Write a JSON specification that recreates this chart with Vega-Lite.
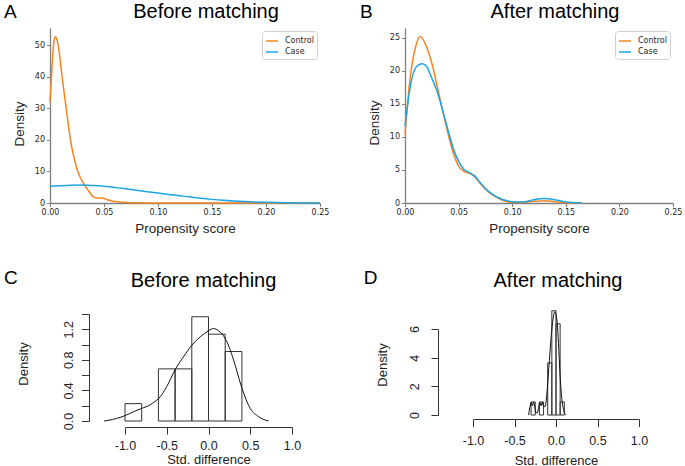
{
  "$schema": "https://vega.github.io/schema/vega-lite/v6.json",
  "background": "white",
  "padding": {"left": 3, "top": 2, "right": 0, "bottom": 0},
  "config": {
    "view": {"stroke": null},
    "font": "Liberation Sans",
    "axis": {"grid": false, "labelFlush": false, "labelOverlap": false, "tickCount": 50}
  },
  "datasets": {
    "psA": [
      {"group": "Control", "score": 0.0, "density": 32},
      {"group": "Control", "score": 0.001, "density": 38},
      {"group": "Control", "score": 0.002, "density": 44},
      {"group": "Control", "score": 0.003, "density": 49},
      {"group": "Control", "score": 0.004, "density": 52},
      {"group": "Control", "score": 0.005, "density": 52.7},
      {"group": "Control", "score": 0.006, "density": 52.3},
      {"group": "Control", "score": 0.007, "density": 51},
      {"group": "Control", "score": 0.0085, "density": 48},
      {"group": "Control", "score": 0.01, "density": 43.5},
      {"group": "Control", "score": 0.0125, "density": 36.5},
      {"group": "Control", "score": 0.015, "density": 30},
      {"group": "Control", "score": 0.0175, "density": 23.5},
      {"group": "Control", "score": 0.02, "density": 18},
      {"group": "Control", "score": 0.0225, "density": 14},
      {"group": "Control", "score": 0.025, "density": 10.8},
      {"group": "Control", "score": 0.0275, "density": 8.5},
      {"group": "Control", "score": 0.03, "density": 6.9},
      {"group": "Control", "score": 0.0325, "density": 5.4},
      {"group": "Control", "score": 0.035, "density": 4.2},
      {"group": "Control", "score": 0.0375, "density": 3.0},
      {"group": "Control", "score": 0.04, "density": 2.0},
      {"group": "Control", "score": 0.0425, "density": 1.65},
      {"group": "Control", "score": 0.045, "density": 1.6},
      {"group": "Control", "score": 0.0475, "density": 1.55},
      {"group": "Control", "score": 0.05, "density": 1.4},
      {"group": "Control", "score": 0.0525, "density": 1.1},
      {"group": "Control", "score": 0.055, "density": 0.85},
      {"group": "Control", "score": 0.0575, "density": 0.65},
      {"group": "Control", "score": 0.06, "density": 0.5},
      {"group": "Control", "score": 0.065, "density": 0.32},
      {"group": "Control", "score": 0.07, "density": 0.2},
      {"group": "Control", "score": 0.075, "density": 0.1},
      {"group": "Control", "score": 0.08, "density": 0.06},
      {"group": "Control", "score": 0.09, "density": 0.03},
      {"group": "Control", "score": 0.1, "density": 0.02},
      {"group": "Control", "score": 0.125, "density": 0.01},
      {"group": "Control", "score": 0.15, "density": 0.005},
      {"group": "Control", "score": 0.2, "density": 0.0},
      {"group": "Control", "score": 0.25, "density": 0.0},
      {"group": "Case", "score": 0.0, "density": 5.3},
      {"group": "Case", "score": 0.01, "density": 5.5},
      {"group": "Case", "score": 0.02, "density": 5.65},
      {"group": "Case", "score": 0.03, "density": 5.7},
      {"group": "Case", "score": 0.04, "density": 5.55},
      {"group": "Case", "score": 0.05, "density": 5.3},
      {"group": "Case", "score": 0.06, "density": 4.95},
      {"group": "Case", "score": 0.07, "density": 4.5},
      {"group": "Case", "score": 0.08, "density": 4.05},
      {"group": "Case", "score": 0.09, "density": 3.6},
      {"group": "Case", "score": 0.1, "density": 3.15},
      {"group": "Case", "score": 0.11, "density": 2.7},
      {"group": "Case", "score": 0.12, "density": 2.3},
      {"group": "Case", "score": 0.13, "density": 1.9},
      {"group": "Case", "score": 0.14, "density": 1.5},
      {"group": "Case", "score": 0.15, "density": 1.15},
      {"group": "Case", "score": 0.16, "density": 0.85},
      {"group": "Case", "score": 0.17, "density": 0.62},
      {"group": "Case", "score": 0.18, "density": 0.45},
      {"group": "Case", "score": 0.19, "density": 0.33},
      {"group": "Case", "score": 0.2, "density": 0.23},
      {"group": "Case", "score": 0.22, "density": 0.1},
      {"group": "Case", "score": 0.25, "density": 0.03}
    ],
    "psB": [
      {"group": "Control", "score": 0.0, "density": 10.4},
      {"group": "Control", "score": 0.005, "density": 19.2},
      {"group": "Control", "score": 0.01, "density": 23.7},
      {"group": "Control", "score": 0.014, "density": 25.2},
      {"group": "Control", "score": 0.02, "density": 23.7},
      {"group": "Control", "score": 0.025, "density": 21.2},
      {"group": "Control", "score": 0.03, "density": 17.7},
      {"group": "Control", "score": 0.035, "density": 14.1},
      {"group": "Control", "score": 0.04, "density": 10.6},
      {"group": "Control", "score": 0.045, "density": 7.6},
      {"group": "Control", "score": 0.05, "density": 5.6},
      {"group": "Control", "score": 0.055, "density": 4.8},
      {"group": "Control", "score": 0.06, "density": 4.5},
      {"group": "Control", "score": 0.065, "density": 4.0},
      {"group": "Control", "score": 0.07, "density": 3.0},
      {"group": "Control", "score": 0.075, "density": 2.1},
      {"group": "Control", "score": 0.08, "density": 1.4},
      {"group": "Control", "score": 0.09, "density": 0.5},
      {"group": "Control", "score": 0.1, "density": 0.1},
      {"group": "Control", "score": 0.11, "density": 0.08},
      {"group": "Control", "score": 0.12, "density": 0.25},
      {"group": "Control", "score": 0.13, "density": 0.35},
      {"group": "Control", "score": 0.14, "density": 0.2},
      {"group": "Control", "score": 0.15, "density": 0.05},
      {"group": "Control", "score": 0.165, "density": 0.0},
      {"group": "Case", "score": 0.0, "density": 11.6},
      {"group": "Case", "score": 0.005, "density": 17.7},
      {"group": "Case", "score": 0.01, "density": 20.5},
      {"group": "Case", "score": 0.016, "density": 21.1},
      {"group": "Case", "score": 0.02, "density": 20.7},
      {"group": "Case", "score": 0.025, "density": 18.9},
      {"group": "Case", "score": 0.03, "density": 16.9},
      {"group": "Case", "score": 0.035, "density": 14.1},
      {"group": "Case", "score": 0.04, "density": 11.1},
      {"group": "Case", "score": 0.045, "density": 8.3},
      {"group": "Case", "score": 0.05, "density": 6.3},
      {"group": "Case", "score": 0.055, "density": 5.1},
      {"group": "Case", "score": 0.06, "density": 4.6},
      {"group": "Case", "score": 0.065, "density": 4.1},
      {"group": "Case", "score": 0.07, "density": 3.1},
      {"group": "Case", "score": 0.075, "density": 2.2},
      {"group": "Case", "score": 0.08, "density": 1.5},
      {"group": "Case", "score": 0.09, "density": 0.6},
      {"group": "Case", "score": 0.1, "density": 0.2},
      {"group": "Case", "score": 0.11, "density": 0.15},
      {"group": "Case", "score": 0.12, "density": 0.5},
      {"group": "Case", "score": 0.13, "density": 0.7},
      {"group": "Case", "score": 0.14, "density": 0.5},
      {"group": "Case", "score": 0.15, "density": 0.15},
      {"group": "Case", "score": 0.165, "density": 0.0}
    ],
    "histC": [
      {"bin_start": -1.0, "bin_end": -0.8, "density": 0.227},
      {"bin_start": -0.6, "bin_end": -0.4, "density": 0.682},
      {"bin_start": -0.4, "bin_end": -0.2, "density": 0.682},
      {"bin_start": -0.2, "bin_end": 0.0, "density": 1.364},
      {"bin_start": 0.0, "bin_end": 0.2, "density": 1.136},
      {"bin_start": 0.2, "bin_end": 0.4, "density": 0.909}
    ],
    "kdeC": [
      {"bin_start": -1.25, "density": 0.0},
      {"bin_start": -1.15, "density": 0.02},
      {"bin_start": -1.05, "density": 0.05},
      {"bin_start": -1.0, "density": 0.07},
      {"bin_start": -0.9, "density": 0.12},
      {"bin_start": -0.8, "density": 0.165},
      {"bin_start": -0.7, "density": 0.21},
      {"bin_start": -0.65, "density": 0.25},
      {"bin_start": -0.6, "density": 0.29},
      {"bin_start": -0.5, "density": 0.45},
      {"bin_start": -0.4, "density": 0.67},
      {"bin_start": -0.3, "density": 0.84},
      {"bin_start": -0.2, "density": 0.99},
      {"bin_start": -0.1, "density": 1.1},
      {"bin_start": 0.0, "density": 1.18},
      {"bin_start": 0.06, "density": 1.21},
      {"bin_start": 0.12, "density": 1.18},
      {"bin_start": 0.2, "density": 1.08},
      {"bin_start": 0.25, "density": 0.96},
      {"bin_start": 0.3, "density": 0.8},
      {"bin_start": 0.4, "density": 0.43},
      {"bin_start": 0.5, "density": 0.165},
      {"bin_start": 0.6, "density": 0.057},
      {"bin_start": 0.65, "density": 0.025},
      {"bin_start": 0.72, "density": 0.0}
    ],
    "histD": [
      {"bin_start": -0.3, "bin_end": -0.25, "density": 0.909},
      {"bin_start": -0.2, "bin_end": -0.15, "density": 0.909},
      {"bin_start": -0.1, "bin_end": -0.05, "density": 3.636},
      {"bin_start": -0.05, "bin_end": 0.0, "density": 7.273},
      {"bin_start": 0.0, "bin_end": 0.05, "density": 6.364},
      {"bin_start": 0.05, "bin_end": 0.1, "density": 0.909}
    ],
    "kdeD": [
      {"bin_start": -0.33, "density": 0.0},
      {"bin_start": -0.315, "density": 0.5},
      {"bin_start": -0.3, "density": 0.9},
      {"bin_start": -0.285, "density": 0.65},
      {"bin_start": -0.27, "density": 0.9},
      {"bin_start": -0.255, "density": 0.5},
      {"bin_start": -0.24, "density": 0.15},
      {"bin_start": -0.225, "density": 0.15},
      {"bin_start": -0.21, "density": 0.5},
      {"bin_start": -0.195, "density": 0.9},
      {"bin_start": -0.18, "density": 0.65},
      {"bin_start": -0.165, "density": 0.9},
      {"bin_start": -0.15, "density": 0.6},
      {"bin_start": -0.13, "density": 0.6},
      {"bin_start": -0.11, "density": 1.5},
      {"bin_start": -0.09, "density": 3.0},
      {"bin_start": -0.07, "density": 4.6},
      {"bin_start": -0.05, "density": 6.0},
      {"bin_start": -0.03, "density": 6.9},
      {"bin_start": -0.015, "density": 7.2},
      {"bin_start": 0.0, "density": 7.0},
      {"bin_start": 0.015, "density": 6.4},
      {"bin_start": 0.03, "density": 5.0},
      {"bin_start": 0.045, "density": 3.2},
      {"bin_start": 0.06, "density": 1.8},
      {"bin_start": 0.075, "density": 0.9},
      {"bin_start": 0.09, "density": 0.4},
      {"bin_start": 0.11, "density": 0.05},
      {"bin_start": 0.12, "density": 0.0}
    ]
  },
  "vconcat": [
    {
      "hconcat": [
        {
          "width": 270,
          "height": 175,
          "title": {"text": "Before matching", "frame": "group", "anchor": "middle", "dx": 21, "dy": 35, "offset": 0, "baseline": "alphabetic", "font": "Liberation Sans", "fontSize": 20, "fontWeight": "normal", "color": "#000"},
          "layer": [
            {
              "data": {"name": "psA"},
              "mark": {"type": "line", "strokeWidth": 1.5, "interpolate": "monotone"},
              "encoding": {
                "x": {"field": "score", "type": "quantitative", "title": "Propensity score",
                  "scale": {"domain": [0, 0.25], "nice": false, "zero": false},
                  "axis": {"values": [0, 0.05, 0.1, 0.15, 0.2, 0.25], "tickCount": 50, "format": ".2f", "labelOverlap": false, "domainColor": "#7f7f7f", "domainWidth": 1.3, "tickColor": "#7f7f7f", "tickSize": 3.5, "labelFont": "DejaVu Sans", "labelFontSize": 8, "labelColor": "#262626", "labelPadding": 2, "titleFont": "Liberation Sans", "titleFontSize": 13.5, "titleFontWeight": "normal", "titleColor": "#262626", "titlePadding": 5}},
                "y": {"field": "density", "type": "quantitative", "title": "Density",
                  "scale": {"domain": [0, 55.5], "nice": false, "zero": false},
                  "axis": {"values": [0, 10, 20, 30, 40, 50], "tickCount": 50, "format": "d", "labelOverlap": false, "domainColor": "#7f7f7f", "domainWidth": 1.3, "tickColor": "#7f7f7f", "tickSize": 3.5, "labelFont": "DejaVu Sans", "labelFontSize": 8, "labelColor": "#262626", "labelPadding": 2, "titleFont": "Liberation Sans", "titleFontSize": 13.5, "titleFontWeight": "normal", "titleColor": "#262626", "titlePadding": 8, "titleY": 95.5}},
                "color": {"field": "group", "type": "nominal",
                  "scale": {"domain": ["Control", "Case"], "range": ["#F5861F", "#1CA5E6"]},
                  "legend": {"title": null, "orient": "top-right", "offset": 3, "symbolType": "stroke", "symbolSize": 144, "symbolStrokeWidth": 1.5, "labelFont": "DejaVu Sans", "labelFontSize": 8, "labelColor": "#262626", "strokeColor": "#d0d0d0", "fillColor": "white", "padding": 3, "cornerRadius": 3, "rowPadding": 0, "labelOffset": 6}}
              }
            },
            {
              "data": {"values": [{"letter": "A"}]},
              "mark": {"type": "text", "align": "left", "baseline": "alphabetic", "font": "Liberation Sans", "fontSize": 19, "color": "#000"},
              "encoding": {"text": {"field": "letter"}, "x": {"datum": -0.0426, "type": "quantitative"}, "y": {"datum": 58.6, "type": "quantitative"}}
            }
          ]
        },
        {
          "width": 268,
          "height": 175,
          "title": {"text": "After matching", "frame": "group", "anchor": "middle", "dx": 16, "dy": 35, "offset": 0, "baseline": "alphabetic", "font": "Liberation Sans", "fontSize": 20, "fontWeight": "normal", "color": "#000"},
          "layer": [
            {
              "data": {"name": "psB"},
              "mark": {"type": "line", "strokeWidth": 1.5, "interpolate": "monotone"},
              "encoding": {
                "x": {"field": "score", "type": "quantitative", "title": "Propensity score",
                  "scale": {"domain": [0, 0.25], "nice": false, "zero": false},
                  "axis": {"values": [0, 0.05, 0.1, 0.15, 0.2, 0.25], "tickCount": 50, "format": ".2f", "labelOverlap": false, "domainColor": "#7f7f7f", "domainWidth": 1.3, "tickColor": "#7f7f7f", "tickSize": 3.5, "labelFont": "DejaVu Sans", "labelFontSize": 8, "labelColor": "#262626", "labelPadding": 2, "titleFont": "Liberation Sans", "titleFontSize": 13.5, "titleFontWeight": "normal", "titleColor": "#262626", "titlePadding": 5}},
                "y": {"field": "density", "type": "quantitative", "title": "Density",
                  "scale": {"domain": [0, 26.5], "nice": false, "zero": false},
                  "axis": {"values": [0, 5, 10, 15, 20, 25], "tickCount": 50, "format": "d", "labelOverlap": false, "domainColor": "#7f7f7f", "domainWidth": 1.3, "tickColor": "#7f7f7f", "tickSize": 3.5, "labelFont": "DejaVu Sans", "labelFontSize": 8, "labelColor": "#262626", "labelPadding": 2, "titleFont": "Liberation Sans", "titleFontSize": 13.5, "titleFontWeight": "normal", "titleColor": "#262626", "titlePadding": 8, "titleY": 94.5}},
                "color": {"field": "group", "type": "nominal",
                  "scale": {"domain": ["Control", "Case"], "range": ["#F5861F", "#1CA5E6"]},
                  "legend": {"title": null, "orient": "top-right", "offset": 3, "symbolType": "stroke", "symbolSize": 144, "symbolStrokeWidth": 1.5, "labelFont": "DejaVu Sans", "labelFontSize": 8, "labelColor": "#262626", "strokeColor": "#d0d0d0", "fillColor": "white", "padding": 3, "cornerRadius": 3, "rowPadding": 0, "labelOffset": 6}}
              }
            },
            {
              "data": {"values": [{"letter": "B"}]},
              "mark": {"type": "text", "align": "left", "baseline": "alphabetic", "font": "Liberation Sans", "fontSize": 19, "color": "#000"},
              "encoding": {"text": {"field": "letter"}, "x": {"datum": -0.042, "type": "quantitative"}, "y": {"datum": 27.98, "type": "quantitative"}}
            }
          ]
        }
      ],
      "spacing": 85,
      "bounds": "flush",
      "resolve": {"scale": {"x": "independent", "y": "independent", "color": "independent"}}
    },
    {
      "hconcat": [
        {"width": 75, "height": 1, "data": {"values": []}, "mark": "point"},
        {
          "width": 167,
          "height": 107,
          "title": {"text": "Before matching", "frame": "group", "anchor": "middle", "dx": -5, "dy": 38, "offset": 0, "baseline": "alphabetic", "font": "Liberation Sans", "fontSize": 20, "fontWeight": "normal", "color": "#000"},
          "layer": [
            {
              "data": {"name": "histC"},
              "mark": {"type": "rect", "fill": "transparent", "stroke": "#333", "strokeWidth": 1},
              "encoding": {
                "x": {"field": "bin_start", "type": "quantitative", "title": "Std. difference",
                  "scale": {"domain": [-1, 1], "nice": false, "zero": false},
                  "axis": {"values": [-1, -0.5, 0, 0.5, 1], "tickCount": 50, "labelExpr": "replace(format(datum.value, '.1f'), '\u2212', '-')", "labelOverlap": false, "offset": 6, "domainColor": "#333", "tickColor": "#333", "tickSize": 7, "labelFont": "Liberation Sans", "labelFontSize": 12.5, "labelColor": "#222", "labelPadding": 5, "titleFont": "Liberation Sans", "titleFontSize": 13, "titleFontWeight": "normal", "titleColor": "#222", "titlePadding": 2}},
                "x2": {"field": "bin_end"},
                "y": {"field": "density", "type": "quantitative", "title": "Density",
                  "scale": {"domain": [0, 1.4], "nice": false, "zero": false},
                  "axis": {"values": [0, 0.2, 0.4, 0.6, 0.8, 1, 1.2, 1.4], "tickCount": 50, "labelExpr": "round(datum.value * 10) % 4 == 0 ? format(datum.value, '.1f') : ''", "labelOverlap": false, "labelAngle": 270, "offset": 36, "domainColor": "#333", "tickColor": "#333", "tickSize": 7.5, "labelFont": "Liberation Sans", "labelFontSize": 12.5, "labelColor": "#222", "labelPadding": 6, "titleFont": "Liberation Sans", "titleFontSize": 13, "titleFontWeight": "normal", "titleColor": "#222", "titlePadding": 32, "titleY": 49.5}},
                "y2": {"datum": 0}
              }
            },
            {
              "data": {"name": "kdeC"},
              "mark": {"type": "line", "stroke": "#111", "strokeWidth": 1, "interpolate": "monotone"},
              "encoding": {
                "x": {"field": "bin_start", "type": "quantitative", "title": "Std. difference"},
                "y": {"field": "density", "type": "quantitative", "title": "Density"}
              }
            },
            {
              "data": {"values": [{"letter": "C"}]},
              "mark": {"type": "text", "align": "left", "baseline": "alphabetic", "font": "Liberation Sans", "fontSize": 19, "color": "#000"},
              "encoding": {"text": {"field": "letter"}, "x": {"datum": -2.449, "type": "quantitative"}, "y": {"datum": 1.787, "type": "quantitative"}}
            }
          ]
        },
        {"width": 181, "height": 1, "data": {"values": []}, "mark": "point"},
        {
          "vconcat": [
            {"width": 166, "height": 15, "data": {"values": []}, "mark": "point"},
            {
              "width": 166,
              "height": 86,
              "title": {"text": "After matching", "frame": "group", "anchor": "middle", "dx": 2, "dy": 38, "offset": 0, "baseline": "alphabetic", "font": "Liberation Sans", "fontSize": 20, "fontWeight": "normal", "color": "#000"},
              "layer": [
                {
                  "data": {"name": "histD"},
                  "mark": {"type": "rect", "fill": "transparent", "stroke": "#333", "strokeWidth": 1},
                  "encoding": {
                    "x": {"field": "bin_start", "type": "quantitative", "title": "Std. difference",
                      "scale": {"domain": [-1, 1], "nice": false, "zero": false},
                      "axis": {"values": [-1, -0.5, 0, 0.5, 1], "tickCount": 50, "labelExpr": "replace(format(datum.value, '.1f'), '\u2212', '-')", "labelOverlap": false, "offset": 4, "domainColor": "#333", "tickColor": "#333", "tickSize": 7.5, "labelFont": "Liberation Sans", "labelFontSize": 12.5, "labelColor": "#222", "labelPadding": 8, "titleFont": "Liberation Sans", "titleFontSize": 13, "titleFontWeight": "normal", "titleColor": "#222", "titlePadding": 7}},
                    "x2": {"field": "bin_end"},
                    "y": {"field": "density", "type": "quantitative", "title": "Density",
                      "scale": {"domain": [0, 6], "nice": false, "zero": false},
                      "axis": {"values": [0, 2, 4, 6], "tickCount": 50, "format": "d", "labelOverlap": false, "labelAngle": 270, "offset": 35, "domainColor": "#333", "tickColor": "#333", "tickSize": 7, "labelFont": "Liberation Sans", "labelFontSize": 12.5, "labelColor": "#222", "labelPadding": 10, "titleFont": "Liberation Sans", "titleFontSize": 13, "titleFontWeight": "normal", "titleColor": "#222", "titlePadding": 19, "titleY": 35.5}},
                    "y2": {"datum": 0}
                  }
                },
                {
                  "data": {"name": "kdeD"},
                  "mark": {"type": "line", "stroke": "#111", "strokeWidth": 1, "interpolate": "monotone"},
                  "encoding": {
                    "x": {"field": "bin_start", "type": "quantitative", "title": "Std. difference"},
                    "y": {"field": "density", "type": "quantitative", "title": "Density"}
                  }
                },
                {
                  "data": {"values": [{"letter": "D"}]},
                  "mark": {"type": "text", "align": "left", "baseline": "alphabetic", "font": "Liberation Sans", "fontSize": 19, "color": "#000"},
                  "encoding": {"text": {"field": "letter"}, "x": {"datum": -2.317, "type": "quantitative"}, "y": {"datum": 9.11, "type": "quantitative"}}
                }
              ]
            }
          ],
          "spacing": 0,
          "bounds": "flush"
        }
      ],
      "spacing": 0,
      "bounds": "flush",
      "resolve": {"scale": {"x": "independent", "y": "independent"}}
    }
  ],
  "spacing": 34,
  "bounds": "full",
  "resolve": {"scale": {"x": "independent", "y": "independent", "color": "independent"}}
}
